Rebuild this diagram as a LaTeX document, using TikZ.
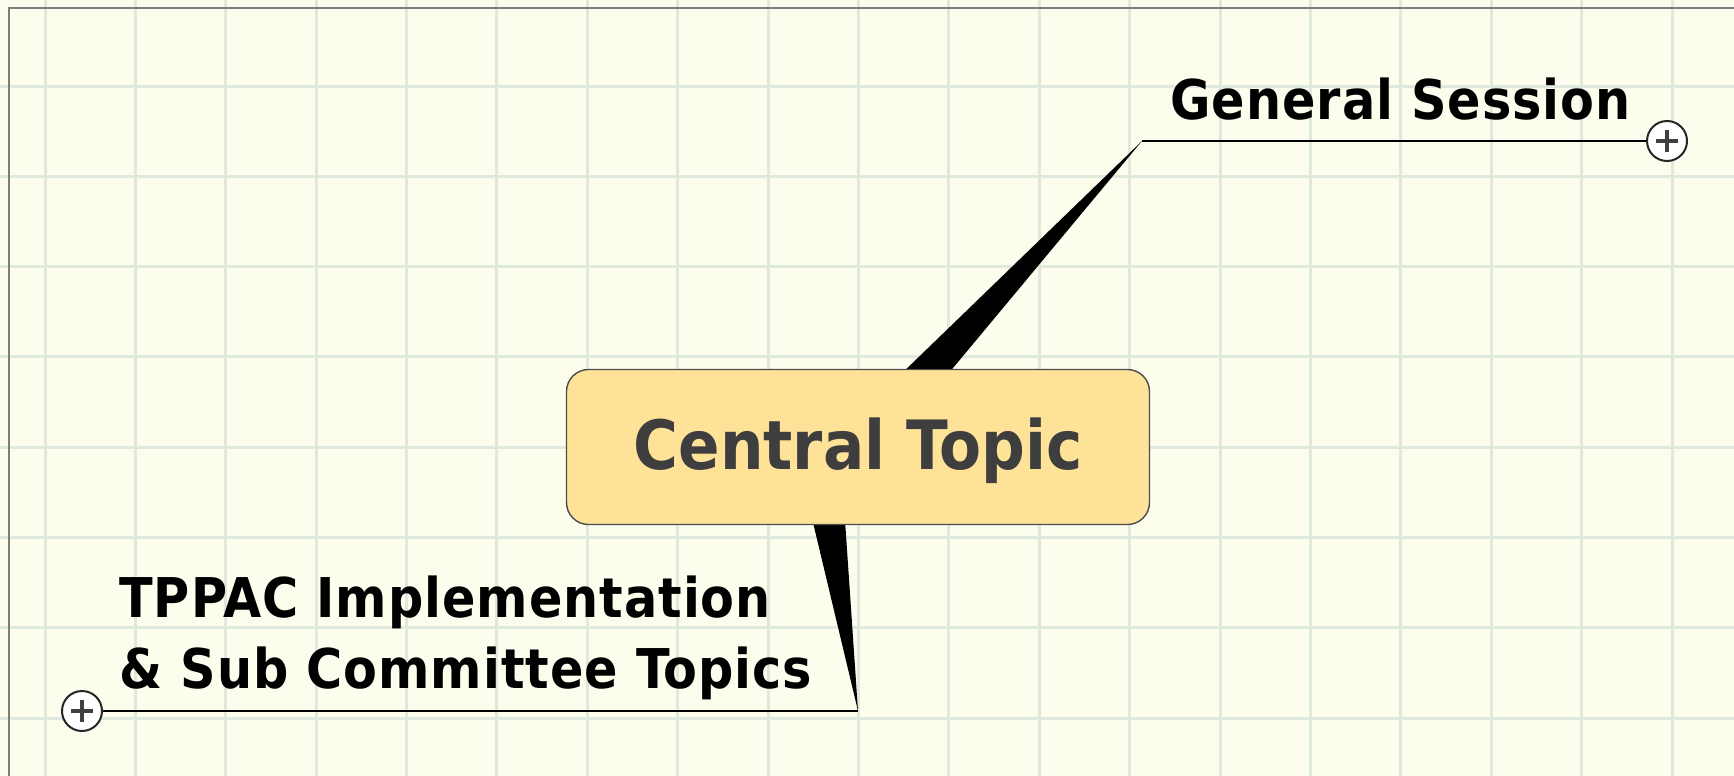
\documentclass[tikz,border=0pt]{standalone}
\usepackage{fontspec}
\setmainfont{DejaVu Sans Condensed}
\usepackage{tikz}
\usetikzlibrary{calc, positioning}
\definecolor{paper}{RGB}{253,253,238}
\definecolor{gridline}{RGB}{224,233,222}
\definecolor{frame}{RGB}{125,125,125}
\definecolor{topicfill}{RGB}{254,226,152}
\definecolor{topictext}{RGB}{62,62,62}

\begin{document}
\begin{tikzpicture}[
    x=0.5pt, y=-0.5pt,
    topic/.style={draw=black!70, fill=topicfill, rounded corners=11pt, line width=0.7pt,
                  minimum width=291.5pt, minimum height=77.5pt, text=topictext,
                  text depth=3.7pt, font=\fontsize{34}{40}\selectfont\bfseries},
    branchtext/.style={inner sep=0pt, align=left, text=black,
                       font=\fontsize{27.4}{35.5}\selectfont\bfseries\addfontfeatures{LetterSpace=1.8}},
    expander/.style={circle, draw=black!85, fill=white, line width=1pt,
                     minimum size=20pt, inner sep=0pt,
                     path picture={\draw[black!75, line width=1.8pt]
                        (path picture bounding box.center) +(-5.5pt,0) -- +(5.5pt,0)
                        (path picture bounding box.center) +(0,-5.5pt) -- +(0,5.5pt);}},
    underline/.style={draw, line width=1pt},
    wedge/.style={fill=black}
]
    % Paper with grid
    \useasboundingbox (0,0) rectangle (1734,776);
    \fill[paper] (0,0) rectangle (1734,776);
    \foreach \gx in {0,...,18}
        \draw[gridline, line width=1.5pt] ({45+90.39*\gx},0) -- ({45+90.39*\gx},776);
    \foreach \gy in {0,...,7}
        \draw[gridline, line width=1.5pt] (0,{86+90.3*\gy}) -- (1734,{86+90.3*\gy});
    \draw[frame, line width=1.2pt] (9,776) -- (9,8) -- (1734,8);

    % Hub and branch joints
    \coordinate (hub) at (858,447);
    \coordinate (genjoin) at (1142,141);
    \coordinate (tpjoin) at (858,711);

    % Tapered branches
    \fill[wedge] ($(hub)+(-16.5,-15.3)$) -- (genjoin) -- ($(hub)+(16.5,15.3)$) -- cycle;
    \fill[wedge] ($(hub)+(-63,0)$) -- (tpjoin) -- ($(hub)+(-18,0)$) -- cycle;

    % Central topic
    \node[topic] (central) at (hub) {Central Topic};

    % Expand buttons and underlines
    \node[expander] (genplus) at (1667,141) {};
    \node[expander] (tpplus) at (82,711) {};
    \draw[underline] (genjoin) -- (genplus);
    \draw[underline] (tpjoin) -- (tpplus);

    % Branch labels
    \node[branchtext, anchor=base west] (gen) at (1170,119) {General Session};
    \node[branchtext, anchor=base west] (tppac) at (119,688)
        {TPPAC Implementation\\\& Sub Committee Topics};
\end{tikzpicture}
\end{document}
